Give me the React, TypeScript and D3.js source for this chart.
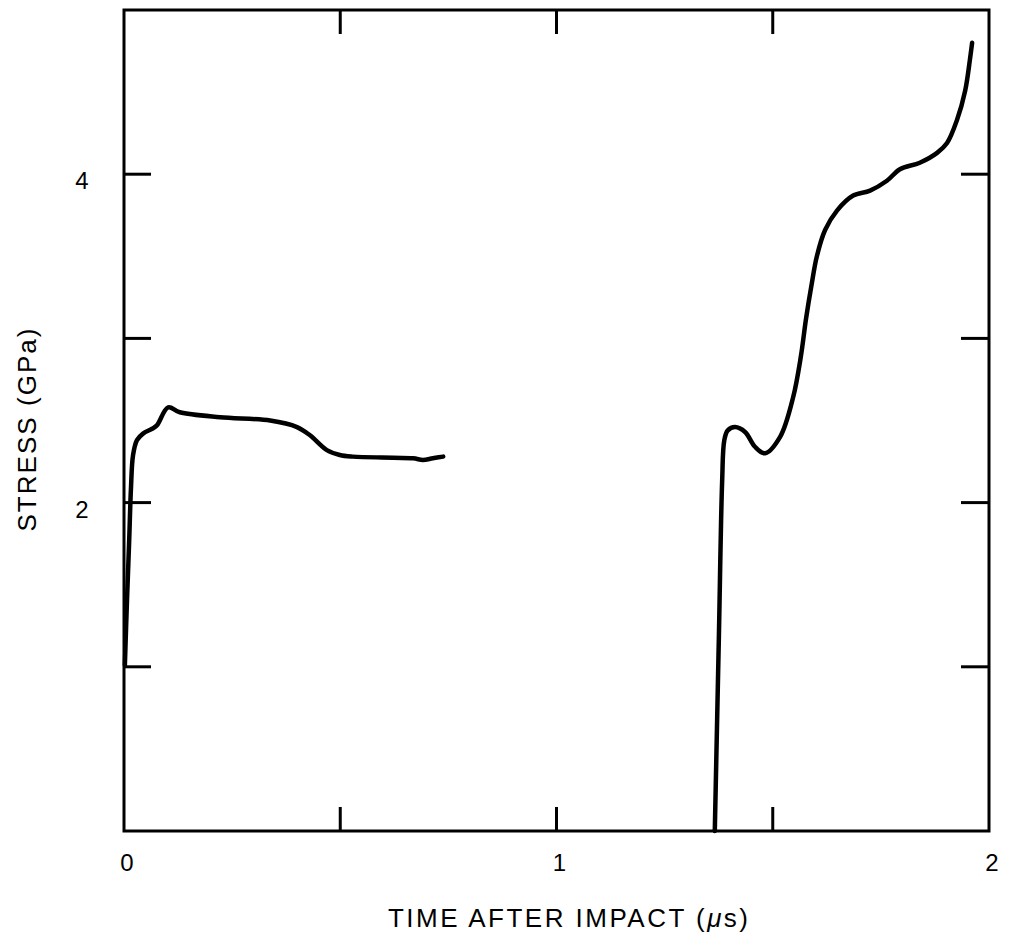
import * as d3 from "d3";

// time (µs) and stress (GPa)
const timeA = [0.002, 0.007, 0.012, 0.016, 0.021, 0.03, 0.044, 0.065, 0.076, 0.102, 0.129, 0.222, 0.338, 0.4, 0.43, 0.469, 0.499, 0.529, 0.668, 0.691, 0.714, 0.738];
const stressA = [1.01, 1.41, 1.77, 2.08, 2.29, 2.38, 2.42, 2.45, 2.47, 2.58, 2.55, 2.52, 2.5, 2.46, 2.41, 2.32, 2.29, 2.28, 2.27, 2.26, 2.27, 2.28];

const timeB = [1.366, 1.3755, 1.383, 1.388, 1.396, 1.413, 1.436, 1.459, 1.482, 1.517, 1.547, 1.565, 1.577, 1.59, 1.602, 1.621, 1.649, 1.686, 1.725, 1.764, 1.794, 1.84, 1.88, 1.903, 1.926, 1.945, 1.956, 1.961];
const stressB = [0.0, 1.19, 2.13, 2.38, 2.44, 2.46, 2.43, 2.34, 2.3, 2.4, 2.64, 2.89, 3.12, 3.33, 3.5, 3.66, 3.78, 3.87, 3.9, 3.96, 4.03, 4.07, 4.13, 4.19, 4.33, 4.51, 4.7, 4.8];

const xTicks = [0.5, 1, 1.5];
const xTickLabels = [0, 1, 2];
const yTicks = [1, 2, 3, 4];
const yTickLabels = [2, 4];

const width = 1009;
const height = 945;
const font = "'Liberation Sans', Arial, sans-serif";

export default function App() {
  const x = d3.scaleLinear([0, 2], [124, 989]);
  const y = d3.scaleLinear([0, 5], [831, 10]);

  const line = d3
    .line<[number, number]>()
    .x((d) => x(d[0]))
    .y((d) => y(d[1]))
    .curve(d3.curveCatmullRom.alpha(0.5));

  const traceA = timeA.map((t, i) => [t, stressA[i]] as [number, number]);
  const traceB = timeB.map((t, i) => [t, stressB[i]] as [number, number]);

  const [x0, x1] = x.range();
  const [y0, y1] = y.range();

  return (
    <svg
      width={width}
      height={height}
      style={{ position: "absolute", left: 0, top: 0, background: "#fff" }}
    >
      <rect x={x0} y={y1} width={x1 - x0} height={y0 - y1} fill="none" stroke="#000" strokeWidth={3} />

      <g stroke="#000" strokeWidth={3}>
        {xTicks.map((t) => (
          <g key={t}>
            <line x1={x(t)} x2={x(t)} y1={y0} y2={y0 - 24} />
            <line x1={x(t)} x2={x(t)} y1={y1} y2={y1 + 24} />
          </g>
        ))}
        {yTicks.map((t) => (
          <g key={t}>
            <line x1={x0} x2={x0 + 27} y1={y(t)} y2={y(t)} />
            <line x1={x1} x2={x1 - 28} y1={y(t)} y2={y(t)} />
          </g>
        ))}
      </g>

      <g fontFamily={font} fontSize={24} fill="#000" textAnchor="middle">
        {xTickLabels.map((t) => (
          <text key={t} x={x(t) + 3} y={y0 + 40}>
            {t}
          </text>
        ))}
        {yTickLabels.map((t) => (
          <text key={t} x={82} y={y(t) + 15}>
            {t}
          </text>
        ))}
      </g>

      <text
        x={568}
        y={927}
        fontFamily={font}
        fontSize={26}
        textAnchor="middle"
        textLength={360}
        lengthAdjust="spacing"
      >
        TIME AFTER IMPACT (<tspan fontStyle="italic">μ</tspan>s)
      </text>
      <text
        transform="translate(36,430) rotate(-90)"
        fontFamily={font}
        fontSize={26}
        textAnchor="middle"
        textLength={203}
        lengthAdjust="spacing"
      >
        STRESS (GPa)
      </text>

      <g fill="none" stroke="#000" strokeWidth={4.5} strokeLinejoin="round" strokeLinecap="round">
        <path d={line(traceA) ?? ""} />
        <path d={line(traceB) ?? ""} />
      </g>
    </svg>
  );
}
